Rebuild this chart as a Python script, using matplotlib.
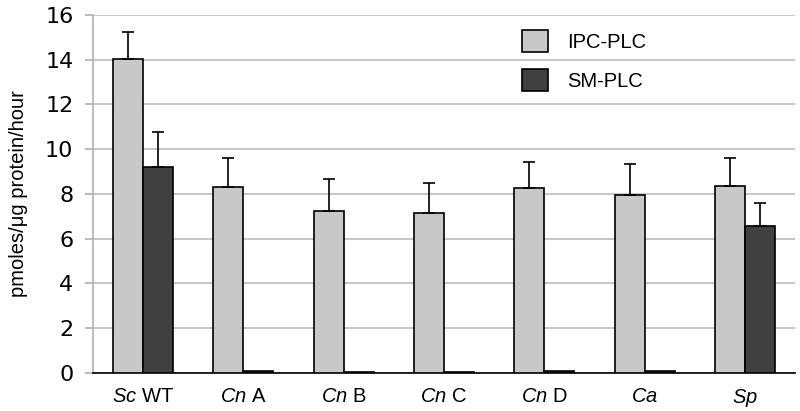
import numpy as np
import matplotlib
matplotlib.use('Agg')
import matplotlib.pyplot as plt

# datos
categorias = [r'$\it{Sc}$ WT', r'$\it{Cn}$ A', r'$\it{Cn}$ B', r'$\it{Cn}$ C',
              r'$\it{Cn}$ D', r'$\it{Ca}$', r'$\it{Sp}$']
ipc_plc = [14.03, 8.32, 7.25, 7.15, 8.25, 7.95, 8.35]
ipc_err = [1.2, 1.3, 1.4, 1.35, 1.2, 1.4, 1.25]
sm_plc = [9.22, 0.1, 0.06, 0.06, 0.07, 0.08, 6.55]
sm_err = [1.56, 0.0, 0.0, 0.0, 0.0, 0.0, 1.05]

plt.rcParams['font.family'] = ['Liberation Sans', 'DejaVu Sans']
plt.rcParams['mathtext.fontset'] = 'custom'
plt.rcParams['mathtext.rm'] = 'Liberation Sans'
plt.rcParams['mathtext.it'] = 'Liberation Sans:italic'

fig = plt.figure(figsize=(8, 4.11), dpi=100)
ax = fig.add_axes([0.116, 0.0925, 0.878, 0.871])

x = np.arange(len(categorias))
ancho = 0.3
ceros = [0] * len(x)

ax.bar(x - ancho / 2, ipc_plc, ancho, color='#c8c8c8', edgecolor='black',
       linewidth=1.2, label='IPC-PLC', zorder=3)
ax.bar(x + ancho / 2, sm_plc, ancho, color='#404040', edgecolor='black',
       linewidth=1.2, label='SM-PLC', zorder=3)

# barras de error solo hacia arriba
ax.errorbar(x - ancho / 2, ipc_plc, yerr=[ceros, ipc_err], fmt='none',
            ecolor='black', elinewidth=1.2, capsize=4, capthick=1.2, zorder=4)
sm_x = [xi + ancho / 2 for xi, e in zip(x, sm_err) if e > 0]
sm_y = [v for v, e in zip(sm_plc, sm_err) if e > 0]
sm_e = [e for e in sm_err if e > 0]
ax.errorbar(sm_x, sm_y, yerr=[[0] * len(sm_e), sm_e], fmt='none',
            ecolor='black', elinewidth=1.2, capsize=4, capthick=1.2, zorder=4)

ax.set_xlim(-0.5, len(x) - 0.5)
ax.set_ylim(0, 16)
ax.set_yticks(range(0, 17, 2))
ax.set_xticks(x)
ax.set_xticklabels(categorias, fontsize=14.5)
ax.tick_params(axis='x', length=0, pad=10)
ax.tick_params(axis='y', length=6, color='#b0b0b0', width=1.2, pad=8)
for lbl in ax.get_yticklabels():
    lbl.set_fontfamily('DejaVu Sans')
    lbl.set_fontsize(16)

ax.grid(axis='y', color='#c8c8c8', linewidth=1.5, zorder=0)
ax.set_axisbelow(True)
ax.spines['top'].set_visible(False)
ax.spines['right'].set_visible(False)
ax.spines['left'].set_color('#b0b0b0')
ax.spines['left'].set_linewidth(1.2)
ax.spines['bottom'].set_color('black')
ax.spines['bottom'].set_linewidth(1.2)

ax.set_ylabel('pmoles/\u03bcg protein/hour', fontsize=14.5, labelpad=12)

ax.legend(loc='upper left', bbox_to_anchor=(0.585, 1.008), frameon=False,
          fontsize=14.5, handlelength=1.3, handleheight=1.3,
          handletextpad=0.95, labelspacing=0.85)

plt.savefig('out.png', dpi=100)
